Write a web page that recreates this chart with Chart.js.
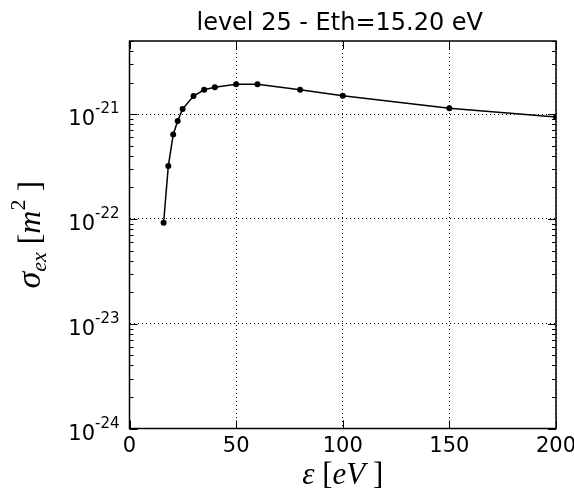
<!DOCTYPE html>
<html>
<head>
<meta charset="utf-8">
<script src="https://cdn.jsdelivr.net/npm/chart.js@4/dist/chart.umd.min.js"></script>
<style>
  html, body { margin: 0; padding: 0; background: #fff; }
</style>
</head>
<body>
<canvas id="chart" width="574" height="495"></canvas>
<script>
// values
const energies = [16, 18.2, 20.5, 22.6, 24.9, 30, 35, 40, 50, 60, 80, 100, 150, 200];
const crossSections = [0.92e-22, 3.2e-22, 6.4e-22, 8.6e-22, 1.12e-21, 1.49e-21, 1.71e-21, 1.81e-21, 1.93e-21, 1.93e-21, 1.71e-21, 1.50e-21, 1.14e-21, 0.94e-21];
const xTicks = [0, 50, 100, 150, 200];
const yDecades = [-24, -23, -22, -21];
const chartTitle = 'level 25 - Eth=15.20 eV';

const SANS = '"DejaVu Sans", sans-serif';
const SERIF = '"Liberation Serif", "DejaVu Serif", serif';

// draws a list of text runs one after another, centred on x
function drawRuns(ctx, runs, cx, y) {
    let total = 0;
    runs.forEach(r => {
        ctx.font = r.font;
        r.w = ctx.measureText(r.t).width;
        total += r.w;
    });
    let x = cx - total / 2;
    ctx.textAlign = 'left';
    ctx.textBaseline = 'alphabetic';
    runs.forEach(r => {
        ctx.font = r.font;
        ctx.fillText(r.t, x, y + (r.dy || 0));
        x += r.w;
    });
}

const decorations = {
    id: 'decorations',
    afterDraw(chart) {
        const { ctx, chartArea: a, scales } = chart;
        const xs = scales.x, ys = scales.y;
        ctx.save();
        ctx.fillStyle = '#000';
        ctx.strokeStyle = '#000';

        // ticks pointing inwards
        ctx.lineWidth = 1;
        ctx.beginPath();
        xTicks.forEach(v => {
            const px = Math.round(xs.getPixelForValue(v)) + 0.5;
            ctx.moveTo(px, a.bottom); ctx.lineTo(px, a.bottom - 8);
            ctx.moveTo(px, a.top); ctx.lineTo(px, a.top + 8);
        });
        yDecades.forEach(e => {
            const py = Math.round(ys.getPixelForValue(Math.pow(10, e))) + 0.5;
            ctx.moveTo(a.left, py); ctx.lineTo(a.left + 8, py);
            ctx.moveTo(a.right, py); ctx.lineTo(a.right - 8, py);
            for (let k = 2; k <= 9; k++) {
                const v = k * Math.pow(10, e);
                if (v > ys.max) break;
                const pm = Math.round(ys.getPixelForValue(v)) + 0.5;
                ctx.moveTo(a.left, pm); ctx.lineTo(a.left + 4, pm);
                ctx.moveTo(a.right, pm); ctx.lineTo(a.right - 4, pm);
            }
        });
        ctx.stroke();

        // frame
        ctx.lineWidth = 1.5;
        ctx.strokeRect(a.left, a.top, a.right - a.left, a.bottom - a.top);

        // y tick labels 10^n
        ctx.textBaseline = 'alphabetic';
        ctx.textAlign = 'left';
        yDecades.forEach(e => {
            const py = ys.getPixelForValue(Math.pow(10, e));
            ctx.font = '15px ' + SANS;
            const ex = String(e);
            const wExp = ctx.measureText(ex).width;
            ctx.font = '21px ' + SANS;
            const wBase = ctx.measureText('10').width;
            const right = a.left - 10;
            ctx.fillText('10', right - wExp - wBase, py + 11);
            ctx.font = '15px ' + SANS;
            ctx.fillText(ex, right - wExp, py - 1);
        });

        // title
        ctx.font = '24px ' + SANS;
        ctx.textAlign = 'center';
        ctx.fillText(chartTitle, (a.left + a.right) / 2 - 3, 30);

        // x axis label
        drawRuns(ctx, [
            { t: 'ε', font: 'italic 31px ' + SERIF },
            { t: ' [', font: '31px ' + SERIF },
            { t: 'eV', font: 'italic 31px ' + SERIF },
            { t: ' ]', font: '31px ' + SERIF }
        ], (a.left + a.right) / 2, 484);

        // y axis label
        ctx.translate(40, (a.top + a.bottom) / 2);
        ctx.rotate(-Math.PI / 2);
        drawRuns(ctx, [
            { t: 'σ', font: 'italic 34px ' + SERIF },
            { t: 'ex', font: 'italic 22px ' + SERIF, dy: 6 },
            { t: ' [', font: '32px ' + SERIF },
            { t: 'm', font: 'italic 32px ' + SERIF },
            { t: '2', font: '22px ' + SERIF, dy: -15 },
            { t: ' ]', font: '32px ' + SERIF }
        ], 0, 0);
        ctx.restore();
    }
};

new Chart(document.getElementById('chart'), {
    type: 'line',
    data: {
        datasets: [{
            data: energies.map((x, i) => ({ x: x, y: crossSections[i] })),
            borderColor: '#000',
            borderWidth: 1.5,
            pointRadius: 3,
            pointBackgroundColor: '#000',
            pointBorderWidth: 0,
            tension: 0
        }]
    },
    options: {
        responsive: false,
        devicePixelRatio: 1,
        animation: false,
        layout: { padding: { top: 41, right: 18, left: 0, bottom: 0 } },
        plugins: {
            legend: { display: false },
            tooltip: { enabled: false }
        },
        scales: {
            x: {
                type: 'linear',
                min: 0,
                max: 200,
                afterBuildTicks: scale => { scale.ticks = xTicks.map(v => ({ value: v })); },
                afterFit: scale => {
                    scale.height = 66.5;
                    scale.paddingLeft = 0;
                    scale.paddingRight = 0;
                },
                ticks: { color: '#000', font: { family: SANS, size: 21 }, padding: 5, maxRotation: 0 },
                grid: { color: '#000', lineWidth: 1, drawTicks: false },
                border: { display: false, dash: [1, 3] }
            },
            y: {
                type: 'logarithmic',
                min: 1e-24,
                max: 5e-21,
                afterBuildTicks: scale => { scale.ticks = yDecades.map(e => ({ value: Math.pow(10, e), major: true })); },
                afterFit: scale => {
                    scale.width = 129.5;
                    scale.paddingTop = 0;
                    scale.paddingBottom = 0;
                },
                ticks: { display: false },
                grid: { color: '#000', lineWidth: 1, drawTicks: false },
                border: { display: false, dash: [1, 3] }
            }
        }
    },
    plugins: [decorations]
});
</script>
</body>
</html>
